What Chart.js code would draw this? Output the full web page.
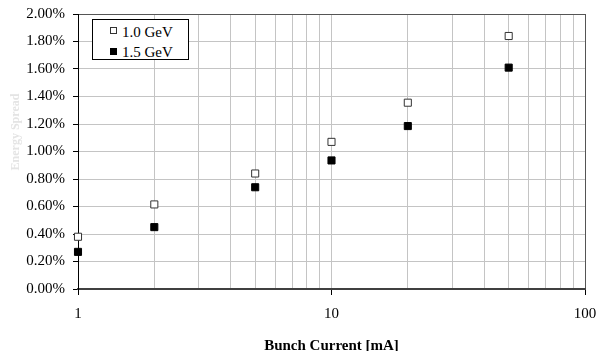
<!DOCTYPE html>
<html lang="en">
<head>
  <meta charset="UTF-8" />
  <title>Energy Spread vs Bunch Current</title>
  <script src="https://cdn.jsdelivr.net/npm/chart.js"></script>
  <style>
    body {
      margin: 0;
      background: #fff;
    }

    .wrap {
      position: relative;
      width: 597px;
      height: 351px;
    }

    .legend {
      position: absolute;
      left: 92px;
      top: 19px;
      width: 95px;
      height: 39px;
      border: 1px solid #000;
      background: #fff;
      font-family: 'Liberation Serif', serif;
      font-size: 15px;
      line-height: 1;
      color: #000;
    }

    .legend .mark {
      position: absolute;
      left: 17px;
      width: 7px;
      height: 7px;
      box-sizing: border-box;
    }

    .legend .label {
      position: absolute;
      left: 29px;
      white-space: nowrap;
    }
  </style>
</head>
<body>

  <div class="wrap">
    <canvas id="spreadChart" width="597" height="351"></canvas>
    <div class="legend">
      <span class="mark" style="top:7px; border:1px solid #333; background:#fff;"></span>
      <span class="label" style="top:5px;">1.0 GeV</span>
      <span class="mark" style="top:28px; background:#000;"></span>
      <span class="label" style="top:25px;">1.5 GeV</span>
    </div>
  </div>

  <script>
    // bunch current [mA]
    const current = [1, 2, 5, 10, 20, 50];
    // energy spread [%]
    const spread10 = [0.38, 0.615, 0.84, 1.07, 1.355, 1.84];
    const spread15 = [0.27, 0.45, 0.74, 0.935, 1.185, 1.61];

    const xTicks = [1, 2, 3, 4, 5, 6, 7, 8, 9, 10, 20, 30, 40, 50, 60, 70, 80, 90, 100];
    const xLabels = [1, 10, 100];

    const serif = 'Liberation Serif';

    function isLast(ctx) {
      return ctx.index === ctx.scale.ticks.length - 1;
    }

    // the y title sits above the middle in the original, so draw it by hand
    const yTitle = {
      id: 'yTitle',
      afterDraw(chart) {
        const ctx = chart.ctx;
        ctx.save();
        ctx.translate(16, 132);
        ctx.rotate(-Math.PI / 2);
        ctx.font = 'bold 12px "' + serif + '"';
        ctx.fillStyle = '#e4e4e4';
        ctx.textAlign = 'center';
        ctx.textBaseline = 'middle';
        ctx.fillText('Energy Spread', 0, 0);
        ctx.restore();
      }
    };

    new Chart(document.getElementById('spreadChart'), {
      type: 'scatter',
      data: {
        datasets: [
          {
            label: '1.0 GeV',
            data: current.map((x, i) => ({ x: x, y: spread10[i] })),
            pointStyle: 'rect',
            pointRadius: 5,
            pointHoverRadius: 5,
            backgroundColor: '#fff',
            borderColor: '#333',
            borderWidth: 1,
            clip: false
          },
          {
            label: '1.5 GeV',
            data: current.map((x, i) => ({ x: x, y: spread15[i] })),
            pointStyle: 'rect',
            pointRadius: 5,
            pointHoverRadius: 5,
            backgroundColor: '#000',
            borderColor: '#000',
            borderWidth: 1,
            clip: false
          }
        ]
      },
      options: {
        responsive: false,
        animation: false,
        events: [],
        layout: {
          padding: { left: 0, right: 12, top: 14, bottom: 0 }
        },
        plugins: {
          legend: { display: false },
          tooltip: { enabled: false }
        },
        scales: {
          x: {
            type: 'logarithmic',
            min: 1,
            max: 100,
            afterBuildTicks: (scale) => {
              scale.ticks = xTicks.map(v => ({ value: v }));
            },
            afterFit: (scale) => {
              scale.height = 62;
              scale.paddingLeft = 0;
              scale.paddingRight = 0;
            },
            ticks: {
              autoSkip: false,
              maxRotation: 0,
              padding: 10,
              color: '#000',
              font: { family: serif, size: 15 },
              callback: (v) => xLabels.includes(v) ? String(v) : ''
            },
            grid: {
              color: (ctx) => isLast(ctx) ? '#555' : '#c4c4c4',
              tickColor: (ctx) => xLabels.includes(ctx.tick.value) ? '#000' : 'rgba(0,0,0,0)',
              tickLength: 6,
              lineWidth: 1
            },
            border: {
              color: '#404040',
              width: 2
            },
            title: {
              display: true,
              text: 'Bunch Current [mA]',
              color: '#000',
              font: { family: serif, size: 15, weight: 'bold' },
              padding: { top: 0, bottom: -4 }
            }
          },
          y: {
            min: 0,
            max: 2,
            afterFit: (scale) => {
              scale.width = 78;
              scale.paddingTop = 0;
              scale.paddingBottom = 0;
            },
            ticks: {
              stepSize: 0.2,
              padding: 8,
              color: '#000',
              font: { family: serif, size: 15 },
              callback: (v) => v.toFixed(2) + '%'
            },
            grid: {
              color: (ctx) => isLast(ctx) ? '#555' : '#c4c4c4',
              tickColor: '#000',
              tickLength: 5,
              lineWidth: 1
            },
            border: {
              color: '#000',
              width: 1
            }
          }
        }
      },
      plugins: [yTitle]
    });
  </script>
</body>
</html>
